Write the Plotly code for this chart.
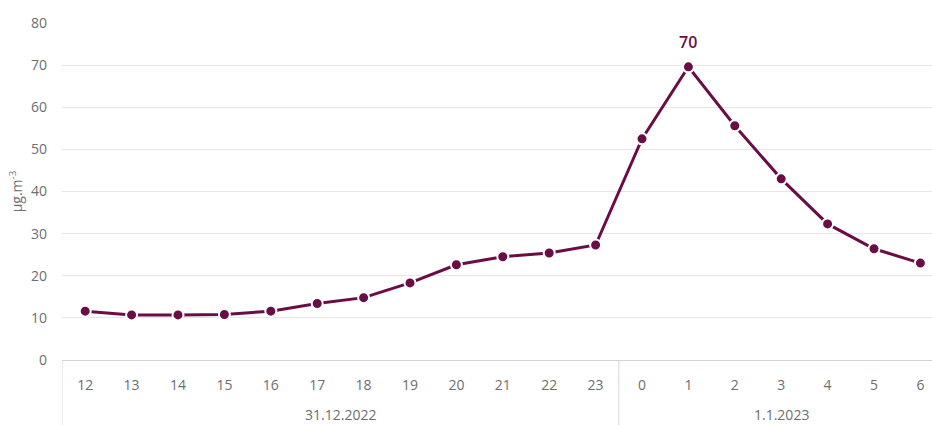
import plotly.graph_objects as go

# Hourly PM concentration around New Year's Eve
days = ["31.12.2022"] * 12 + ["1.1.2023"] * 7
hours = ["12", "13", "14", "15", "16", "17", "18", "19", "20", "21", "22", "23",
         "0", "1", "2", "3", "4", "5", "6"]
values = [11.6, 10.7, 10.7, 10.8, 11.6, 13.4, 14.8, 18.3, 22.6, 24.5, 25.4, 27.3,
          52.5, 69.6, 55.6, 43.0, 32.3, 26.4, 23.0]

y_ticks = [0, 10, 20, 30, 40, 50, 60, 70, 80]

LINE_COLOR = "#6b0d45"
TEXT_GRAY = "#6e6e6e"
GRID = "#e6e6e6"
AXIS = "#d4d4d4"
FONT = "Open Sans, sans-serif"

fig = go.Figure(
    go.Scatter(
        x=hours,
        y=values,
        mode="lines+markers",
        line=dict(color=LINE_COLOR, width=3),
        marker=dict(color=LINE_COLOR, size=11, line=dict(color="white", width=2)),
        cliponaxis=False,
        hoverinfo="skip",
    )
)

# value label on the peak hour (category axis position given by index,
# since hour names like "1" would otherwise be read as positions)
peak_i = values.index(max(values))
fig.add_annotation(
    x=peak_i, y=values[peak_i], xref="x", yref="y",
    text=f"{values[peak_i]:.0f}", showarrow=False, yshift=25,
    font=dict(color=LINE_COLOR, size=16, family=FONT, weight=600),
)

# day grouping below the hour labels: dividers at day boundaries + centred day names
groups = []
for i, d in enumerate(days):
    if not groups or groups[-1][0] != d:
        groups.append([d, i, i])
    else:
        groups[-1][2] = i

for name, first, last in groups:
    fig.add_shape(
        type="line", xref="x", yref="paper",
        x0=first - 0.5, x1=first - 0.5, y0=0, y1=-0.2,
        line=dict(color=AXIS, width=1),
    )
    fig.add_annotation(
        x=(first + last) / 2, y=-0.163, xref="x", yref="paper",
        text=name, showarrow=False, yanchor="middle",
        font=dict(size=14, color=TEXT_GRAY, family=FONT),
    )

fig.update_layout(
    width=932,
    height=425,
    margin=dict(l=62, r=0, t=23, b=65),
    paper_bgcolor="white",
    plot_bgcolor="white",
    showlegend=False,
    font=dict(family=FONT, size=14, color=TEXT_GRAY),
)

fig.update_xaxes(
    type="category",
    range=[-0.5, 18.25],
    showgrid=False,
    showline=True,
    linecolor=AXIS,
    linewidth=1,
    ticks="",
    ticklabelstandoff=12,
    tickfont=dict(size=14, color=TEXT_GRAY),
)

fig.update_yaxes(
    range=[0, 80],
    tickvals=y_ticks,
    showgrid=True,
    gridcolor=GRID,
    gridwidth=1,
    zeroline=False,
    showline=False,
    ticklabelstandoff=14,
    tickfont=dict(size=14, color=TEXT_GRAY),
    title=dict(text="µg.m<sup>-3</sup>", font=dict(size=14, color=TEXT_GRAY), standoff=5),
)

fig.write_html("out.html")
